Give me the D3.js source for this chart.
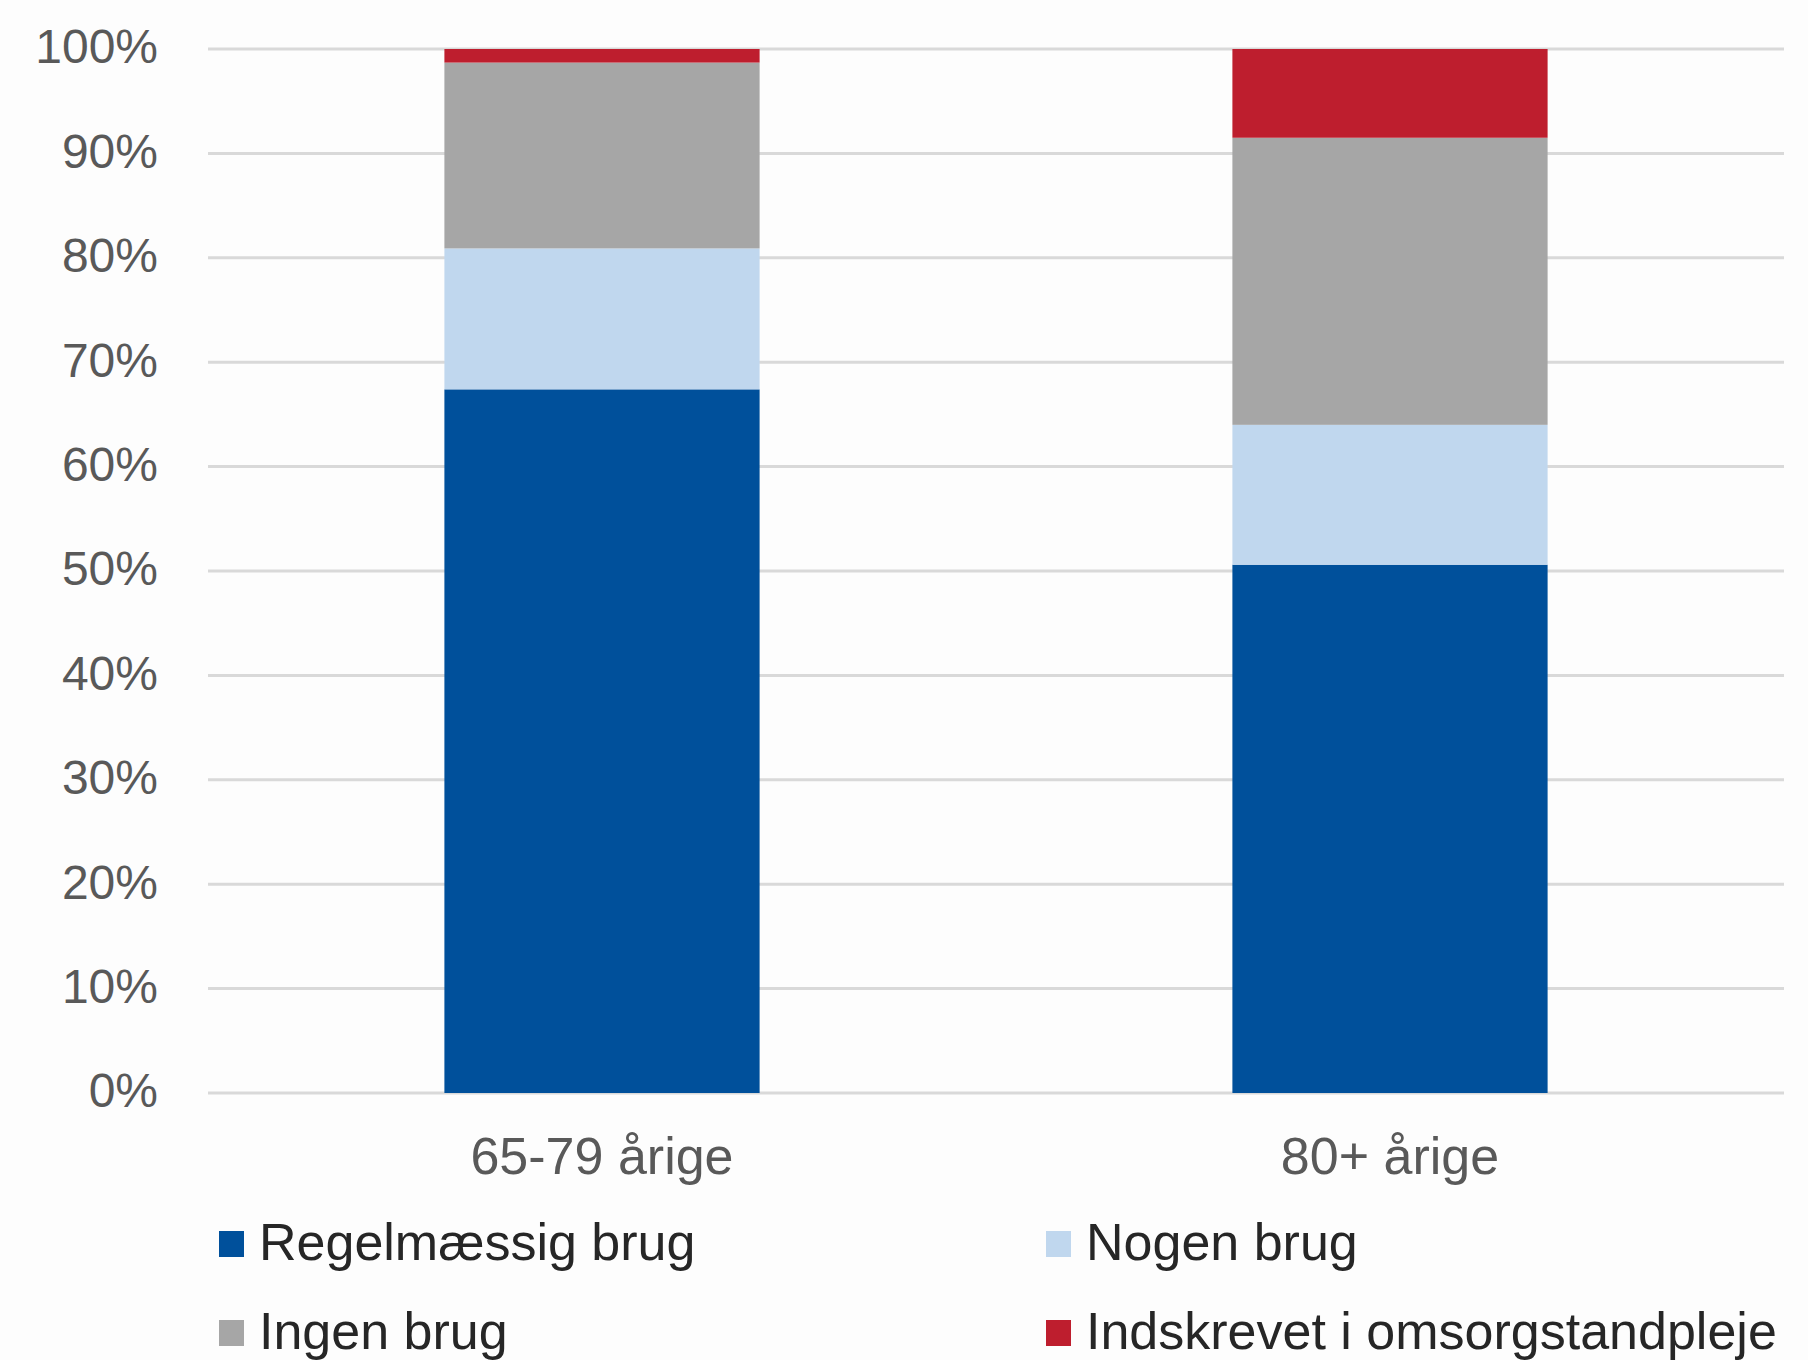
<!DOCTYPE html>
<html lang="da">
<head>
<meta charset="utf-8">
<title>Tandplejebrug</title>
<style>
  body { margin: 0; background: #fdfdfd; }
  svg { display: block; font-family: "Liberation Sans", "DejaVu Sans", sans-serif; }
  .grid line { stroke: #d9d9d9; stroke-width: 3; }
  .ylab { font-size: 48px; fill: #595959; }
  .xlab { font-size: 52px; fill: #595959; }
  .leg text { font-size: 52px; fill: #262626; }
</style>
</head>
<body>
<svg width="1808" height="1360"></svg>
<script src="https://d3js.org/d3.v7.min.js"></script>
<script>
// data
var categories = ["65-79 årige", "80+ årige"];
var seriesNames = ["Regelmæssig brug", "Nogen brug", "Ingen brug", "Indskrevet i omsorgstandpleje"];
var seriesColors = ["#00509b", "#c0d7ee", "#a6a6a6", "#be1e2e"];
var regelmaessig = [67.4, 50.6];
var nogen = [13.5, 13.4];
var ingen = [17.8, 27.5];
var indskrevet = [1.3, 8.5];
var yTicks = [0, 10, 20, 30, 40, 50, 60, 70, 80, 90, 100];

var svg = d3.select("svg");
var plot = {left: 208, right: 1784, top: 49, bottom: 1093};

var y = d3.scaleLinear().domain([0, 100]).range([plot.bottom, plot.top]);
var x = d3.scaleBand().domain(categories).range([plot.left, plot.right]).paddingInner(0.6).paddingOuter(0.3);

// gridlines
svg.append("g").attr("class", "grid")
  .selectAll("line").data(yTicks).enter().append("line")
  .attr("x1", plot.left).attr("x2", plot.right)
  .attr("y1", function(d) { return y(d); })
  .attr("y2", function(d) { return y(d); });

// y labels
svg.append("g").selectAll("text").data(yTicks).enter().append("text")
  .attr("class", "ylab")
  .attr("x", 158)
  .attr("y", function(d) { return y(d); })
  .attr("dy", "0.3em")
  .attr("text-anchor", "end")
  .text(function(d) { return d + "%"; });

// stacked bars
var rows = categories.map(function(c, i) {
  return { cat: c, s0: regelmaessig[i], s1: nogen[i], s2: ingen[i], s3: indskrevet[i] };
});
var stack = d3.stack().keys(["s0", "s1", "s2", "s3"]);
var layers = stack(rows);

svg.append("g").selectAll("g").data(layers).enter().append("g")
  .attr("fill", function(d, i) { return seriesColors[i]; })
  .selectAll("rect").data(function(d) { return d; }).enter().append("rect")
  .attr("x", function(d) { return x(d.data.cat); })
  .attr("width", x.bandwidth())
  .attr("y", function(d) { return y(d[1]); })
  .attr("height", function(d) { return y(d[0]) - y(d[1]); });

// x labels
svg.append("g").selectAll("text").data(categories).enter().append("text")
  .attr("class", "xlab")
  .attr("x", function(d) { return x(d) + x.bandwidth() / 2; })
  .attr("y", 1174)
  .attr("text-anchor", "middle")
  .text(function(d) { return d; });

// legend, 2 columns
var colX = [219, 1046], rowY = [1231, 1320];
var leg = svg.append("g").attr("class", "leg")
  .selectAll("g").data(seriesNames).enter().append("g")
  .attr("transform", function(d, i) {
    return "translate(" + colX[i % 2] + "," + rowY[Math.floor(i / 2)] + ")";
  });
leg.append("rect").attr("width", 25).attr("height", 26)
  .attr("fill", function(d, i) { return seriesColors[i]; });
leg.append("text").attr("x", 40).attr("y", 29).text(function(d) { return d; });
</script>
</body>
</html>
